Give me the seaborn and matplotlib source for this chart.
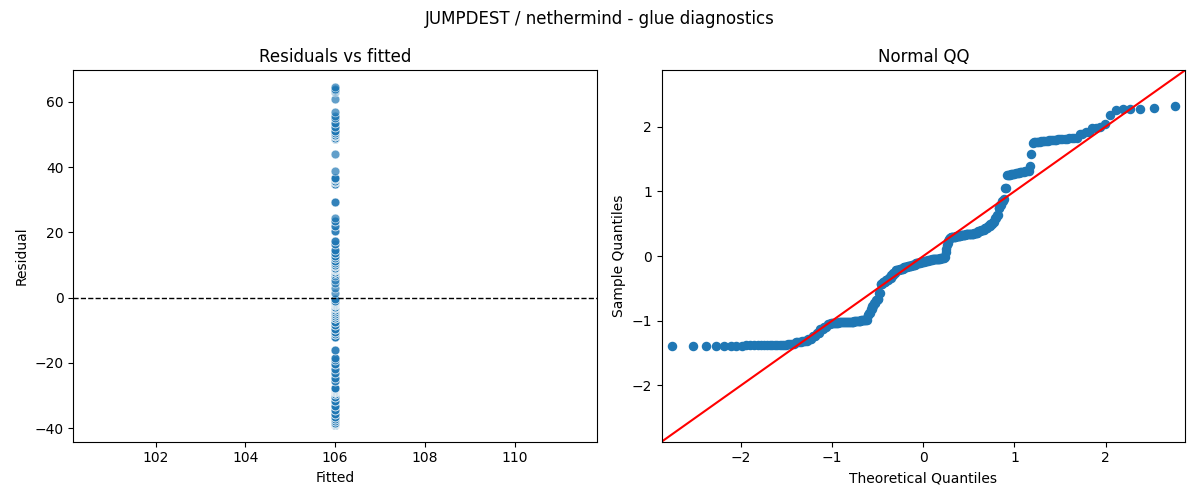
import numpy as np
import pandas as pd
import matplotlib
matplotlib.use("Agg")
import matplotlib.pyplot as plt
import seaborn as sns
from statistics import NormalDist

fitted_value = 106.0

resid_levels = [
    -39.0, -38.7, -38.4, -37.9, -37.3, -36.7,
    -35.8, -34.6, -33.2, -31.8, -30.6, -29.6,
    -29.0, -28.7, -28.4, -28.1, -27.7,
    -25.5, -24.6, -23.2, -21.8, -20.4, -19.2, -18.5, -16.0,
    -12.0, -11.3, -10.5, -9.5, -8.5, -7.5,
    -6.2, -5.6, -5.0, -4.4, -3.8, -3.3, -2.8, -2.3, -1.9, -1.5, -1.2, -0.9,
    -0.4, 1.5, 3.0, 4.5, 5.5, 6.5, 7.2, 7.8,
    8.0, 8.4, 8.8, 9.2, 9.6, 10.0,
    10.5, 11.2, 12.0, 12.8, 13.6, 14.5, 16.5, 17.5, 20.5, 22.0, 23.5, 24.5, 29.3,
    34.8, 35.3, 35.8, 36.3, 36.8,
    38.8, 43.9, 48.5,
    49.0, 49.5, 50.0, 50.5, 51.0, 52.4, 53.5, 55.0,
    55.7, 56.9, 60.8, 63.1, 63.3, 63.5, 64.0, 64.5,
]
resid_counts = [
    8, 8, 7, 4, 4, 4,
    3, 3, 3, 3, 3, 3,
    8, 8, 8, 8, 8,
    2, 2, 2, 2, 3, 2, 2, 2,
    3, 4, 4, 4, 3, 3,
    6, 6, 6, 6, 6, 7, 6, 6, 6, 6, 6, 6,
    2, 1, 1, 1, 1, 1, 1, 2,
    7, 7, 7, 6, 5, 5,
    4, 4, 4, 3, 3, 2, 2, 2, 2, 2, 2, 1, 2,
    4, 4, 4, 4, 4,
    1, 1, 1,
    5, 5, 5, 5, 4, 2, 2, 2,
    1, 1, 1, 1, 1, 2, 1, 1,
]

title = "JUMPDEST / nethermind - glue diagnostics"

# ---- derived series ----
residuals = np.repeat(np.array(resid_levels), resid_counts)
n = residuals.size
fitted = np.full(n, fitted_value)
df_left = pd.DataFrame({"Fitted": fitted, "Residual": residuals})

z = np.sort((residuals - residuals.mean()) / residuals.std(ddof=1))
pos = np.arange(1, n + 1) / (n + 1)
nd = NormalDist()
theo = np.array([nd.inv_cdf(p) for p in pos])
df_qq = pd.DataFrame({"theo": theo, "sample": z})

# ---- figure ----
fig, axes = plt.subplots(1, 2, figsize=(12, 5), dpi=100)

ax = axes[0]
sns.scatterplot(data=df_left, x="Fitted", y="Residual", ax=ax, alpha=0.7, s=40)
ax.axhline(0, color="black", linestyle="--", linewidth=1)
ax.set_title("Residuals vs fitted")
ax.set_xlabel("Fitted")
ax.set_ylabel("Residual")

ax = axes[1]
sns.scatterplot(data=df_qq, x="theo", y="sample", ax=ax, color="#1f77b4",
                edgecolor="#1f77b4", linewidth=1, s=34)
lim = 1.04 * np.abs(theo).max()
ax.set_xlim(-lim, lim)
ax.set_ylim(-lim, lim)
ax.plot([-lim, lim], [-lim, lim], color="red", linewidth=1.5)
ax.set_title("Normal QQ")
ax.set_xlabel("Theoretical Quantiles")
ax.set_ylabel("Sample Quantiles")

fig.suptitle(title)
fig.tight_layout()
fig.savefig("out.png", dpi=100)
